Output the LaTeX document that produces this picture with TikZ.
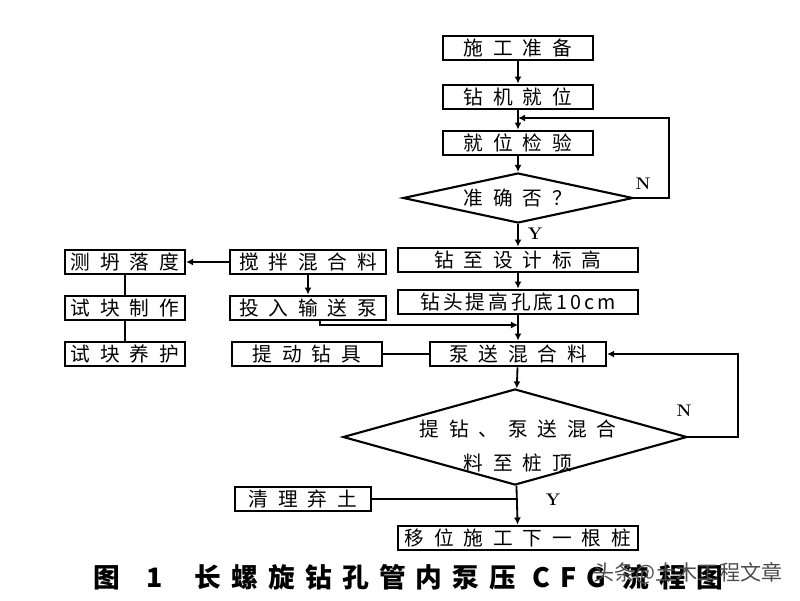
\documentclass[tikz,border=0pt]{standalone}
\usepackage{fontspec}
\newfontfamily\cjk[LetterSpace=50]{Noto Sans CJK SC}
\newfontfamily\cjktight[LetterSpace=15]{Noto Sans CJK SC}
\newfontfamily\cjkcap[LetterSpace=38]{Noto Sans CJK SC}
\newfontfamily\cjkmark{Noto Sans CJK SC}
\usetikzlibrary{shapes.geometric,arrows.meta}

\tikzset{
  box/.style={draw,line width=1.5pt,minimum height=0.62cm,inner sep=0pt,
    font=\cjk\fontsize{14}{16}\selectfont},
  boxs/.style={box,minimum width=3.75cm},
  boxl/.style={box,minimum width=6cm},
  boxm/.style={box,minimum width=3.9cm},
  boxt/.style={box,minimum width=3cm},
  dia/.style={draw,diamond,line width=1.5pt,inner sep=0pt},
  dtext/.style={align=center,font=\cjk\fontsize{14}{24}\selectfont},
  yn/.style={font=\bfseries\large},
  link/.style={line width=1.3pt},
  >={Latex[length=5pt,width=5pt]}
}

\begin{document}
\begin{tikzpicture}[x=0.025cm,y=-0.025cm]
  \useasboundingbox (0,0) rectangle (800,600);
  % main column
  \node[boxs] (prep) at (518,48) {施工准备};
  \node[boxs] (rig) at (518,97) {钻机就位};
  \node[boxs] (check) at (518,143) {就位检验};
  \node[dia,minimum width=5.75cm,minimum height=1.25cm] (ok) at (518,198) {};
  \node[dtext] (oktext) at (ok) {准确否？};
  \node[boxl] (drill) at (518,260) {钻至设计标高};
  \node[box,minimum width=6cm,font=\cjktight\fontsize{14}{16}\selectfont] (lift) at (518,302) {钻头提高孔底10cm};
  \node[box,minimum width=4.4cm] (pump) at (518,354) {泵送混合料};
  \node[dia,minimum width=8.6cm,minimum height=2.4cm] (top) at (515,437) {};
  \node[dtext] (toptext) at (518,446) {提钻、泵送混合\\料至桩顶};
  \node[boxl] (move) at (518,538) {移位施工下一根桩};
  % side boxes
  \node[boxm] (mix) at (308,262) {搅拌混合料};
  \node[boxm] (feed) at (308,308) {投入输送泵};
  \node[box,minimum width=3.75cm] (raise) at (307,354) {提动钻具};
  \node[boxt] (slump) at (125,262) {测坍落度};
  \node[boxt] (make) at (125,308) {试块制作};
  \node[boxt] (cure) at (125,354) {试块养护};
  \node[box,minimum width=3.4cm] (clear) at (303,499) {清理弃土};
  \coordinate (back) at (518,118);
  \coordinate (join) at (518,325);
  \coordinate (soil) at (518,499);

  \draw[link,->] (prep) -- (rig);
  \draw[link,->] (rig) -- (check);
  \draw[link,->] (check) -- (ok);
  \draw[link,->] (ok) -- (drill);
  \draw[link,->] (ok.east) -- ++(35,0) |- (back);
  \draw[link,->] (drill) -- (lift);
  \draw[link,->] (lift) -- (pump);
  \draw[link,->] ([xshift=0.3cm]feed.south) |- (join);
  \draw[link,->] (mix) -- (slump);
  \draw[link,->] (mix) -- (feed);
  \draw[link] (slump) -- (make) -- (cure);
  \draw[link] (raise) -- (pump);
  \draw[link,->] (pump) -- (top);
  \draw[link,->] (top.east) -- ++(50,0) |- (pump.east);
  \draw[link,->] (top) -- (move);
  \draw[link] (clear) -- (soil);

  \node[yn] (n1) at (643,184) {N};
  \node[yn] (y1) at (535,234) {Y};
  \node[yn] (n2) at (684,411) {N};
  \node[yn] (y2) at (553,500) {Y};

  % caption
  \node[font=\cjkcap\bfseries\fontsize{19}{21}\selectfont] (caption) at (408,577)
    {图\hspace{1em}1\hspace{1.2em}长螺旋钻孔管内泵压 CFG 流程图};
  \node[font=\cjkmark\fontsize{15}{18}\selectfont,text=black!70] (mark) at (688,573) {头条@土木工程文章};
\end{tikzpicture}
\end{document}
